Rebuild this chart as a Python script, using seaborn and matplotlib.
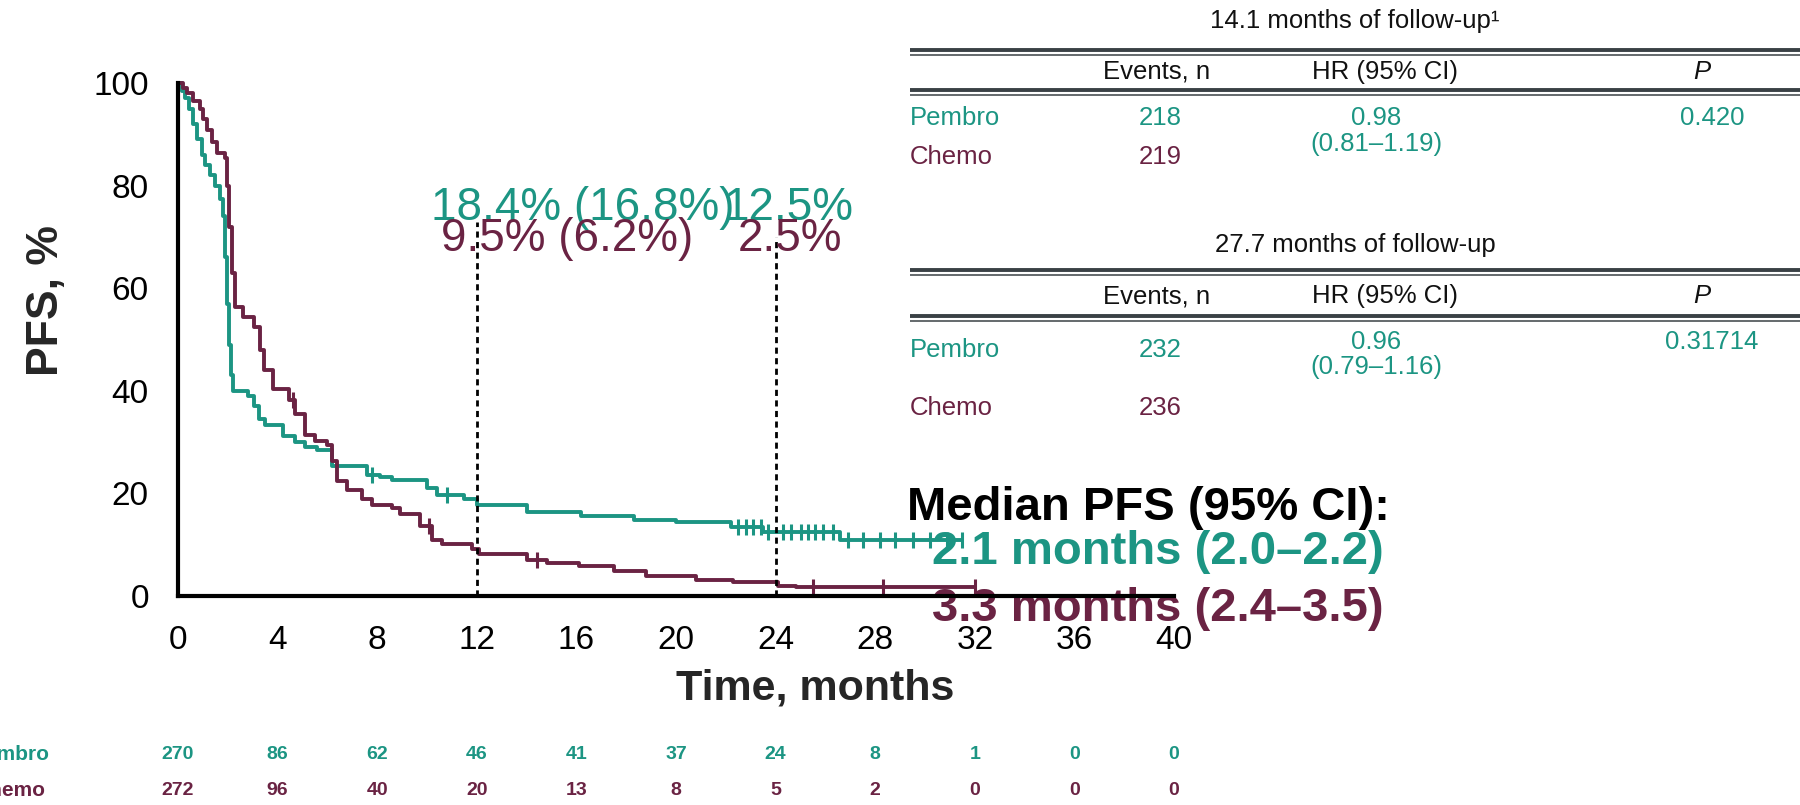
import numpy as np
import pandas as pd
import matplotlib
matplotlib.use("Agg")
import matplotlib.pyplot as plt
import matplotlib.transforms as mtrans
import seaborn as sns

# ---------------- data ----------------
arms = ["Pembro", "Chemo"]

pembro_t = [0, 0.15, 0.3, 0.46, 0.6, 0.75, 0.95, 1.1, 1.3, 1.5, 1.67, 1.8, 1.9, 1.97, 2.05, 2.12, 2.2,
            2.8, 3.05, 3.25, 3.5, 4.2, 4.7, 5.1, 5.6, 6.2, 7.6, 8.1, 8.6, 10.0, 10.4, 11.5, 12.0,
            14.0, 16.2, 18.3, 20.0, 22.2, 23.5, 26.6, 31.5]
pembro_s = [100, 98.5, 97, 95, 92, 89, 86, 84, 82, 80, 77.4, 74, 66, 57, 49, 43, 40,
            39, 37, 34.5, 33.4, 31.2, 30, 29, 28.5, 25.4, 23.6, 23.1, 22.6, 21, 19.7, 19, 17.8,
            16.3, 15.6, 14.8, 14.4, 13.4, 12.5, 11, 11]

chemo_t = [0, 0.2, 0.36, 0.6, 0.87, 1.0, 1.15, 1.35, 1.55, 1.87, 1.95, 2.05, 2.15, 2.27, 2.6, 3.05,
           3.3, 3.45, 3.8, 4.45, 4.7, 5.1, 5.5, 6.0, 6.2, 6.4, 6.8, 7.4, 7.8, 8.6, 8.9, 9.7, 10.2,
           10.6, 11.8, 12.1, 14.0, 14.8, 16.1, 17.5, 18.8, 20.8, 22.3, 24.1, 24.8, 32.0]
chemo_s = [100, 99, 98, 96.5, 95, 93, 90.8, 88.5, 86.4, 85.3, 80, 72, 63, 56.4, 54.4, 52.5,
           48, 44, 40.3, 38.3, 35.4, 31.4, 30.3, 29.5, 26.3, 22.4, 20.6, 19, 17.7, 17.1, 15.9, 13.6, 11,
           10.1, 9.1, 8.1, 7.1, 6.5, 5.8, 4.9, 3.9, 3.2, 2.7, 1.9, 1.7, 1.7]

pembro_cens_t = [7.8, 10.8, 22.5, 22.8, 23.1, 23.4, 23.7, 24.3, 24.6, 25.0, 25.3, 25.6, 25.9, 26.3,
                 26.9, 27.5, 28.2, 28.8, 29.5, 30.2, 30.9, 31.5]
pembro_cens_s = [23.6, 19.7, 13.4, 13.4, 13.4, 13.4, 12.5, 12.5, 12.5, 12.5, 12.5, 12.5, 12.5, 12.5,
                 11, 11, 11, 11, 11, 11, 11, 11]
chemo_cens_t = [4.6, 10.1, 14.4, 25.5, 28.3, 32.0]
chemo_cens_s = [38.3, 13.6, 7.1, 1.7, 1.7, 1.7]

xticks = [0, 4, 8, 12, 16, 20, 24, 28, 32, 36, 40]
yticks = [0, 20, 40, 60, 80, 100]

risk_pembro = [270, 86, 62, 46, 41, 37, 24, 8, 1, 0, 0]
risk_chemo = [272, 96, 40, 20, 13, 8, 5, 2, 0, 0, 0]

landmarks = [12, 24]
landmark_top = [73, 70]

# table data
tables = [
    {"title": "14.1 months of follow-up\u00b9",
     "events": ["218", "219"], "hr": "0.98", "ci": "(0.81\u20131.19)", "p": "0.420"},
    {"title": "27.7 months of follow-up",
     "events": ["232", "236"], "hr": "0.96", "ci": "(0.79\u20131.16)", "p": "0.31714"},
]

TEAL = "#1c9583"
MAROON = "#6a2343"
palette = {"Pembro": TEAL, "Chemo": MAROON}

# ---------------- style ----------------
sns.set_theme(style="white")
plt.rcParams['font.family'] = ['Liberation Sans', 'DejaVu Sans']

fig = plt.figure(figsize=(18, 8.05), dpi=100)
fig.patch.set_facecolor("white")

# overlay for free text (pixel coords), drawn beneath the chart axes
ov = fig.add_axes([0, 0, 1, 1])
ov.set_xlim(0, 1800)
ov.set_ylim(805, 0)
ov.axis("off")
ov.set_zorder(0)

ax = fig.add_axes([178 / 1800, 1 - 596 / 805, 996 / 1800, 513 / 805])
ax.set_zorder(1)
ax.patch.set_alpha(0)

df = pd.concat([
    pd.DataFrame({"t": pembro_t, "s": pembro_s, "arm": "Pembro"}),
    pd.DataFrame({"t": chemo_t, "s": chemo_s, "arm": "Chemo"}),
], ignore_index=True)
cens = pd.concat([
    pd.DataFrame({"t": pembro_cens_t, "s": pembro_cens_s, "arm": "Pembro"}),
    pd.DataFrame({"t": chemo_cens_t, "s": chemo_cens_s, "arm": "Chemo"}),
], ignore_index=True)

sns.lineplot(data=df, x="t", y="s", hue="arm", palette=palette, drawstyle="steps-post",
             estimator=None, sort=False, linewidth=2.8, legend=False, ax=ax, clip_on=False)
for arm in arms:
    sub = cens[cens.arm == arm]
    ax.plot(sub.t, sub.s, linestyle="none", marker="|", markersize=11, markeredgewidth=2.2,
            color=palette[arm], clip_on=False)

for x, top in zip(landmarks, landmark_top):
    ax.plot([x, x], [0, top], color="black", linestyle=(0, (2.2, 1.6)), linewidth=2, clip_on=False)

ax.set_xlim(0, 40)
ax.set_ylim(0, 100)
ax.set_xticks(xticks)
ax.set_yticks(yticks)
ax.tick_params(axis="both", direction="out", length=13, width=2.8, labelsize=24, pad=8,
               color="black", labelcolor="black")
for s in ["top", "right"]:
    ax.spines[s].set_visible(False)
for s in ["left", "bottom"]:
    ax.spines[s].set_linewidth(3.0)
    ax.spines[s].set_color("black")

ax.set_xlabel("Time, months", fontsize=31, fontweight="bold", va="center")
ax.xaxis.set_label_coords(0.64, -0.181)
ax.set_ylabel("PFS, %", fontsize=32, fontweight="bold", va="center")
ax.yaxis.set_label_coords(-0.1325, 0.575)

# landmark annotations
ax.text(10.15, 75.6, "18.4% (16.8%)", color=TEAL, fontsize=33, ha="left", va="center", clip_on=False)
ax.text(21.9, 75.6, "12.5%", color=TEAL, fontsize=33, ha="left", va="center", clip_on=False)
ax.text(10.55, 69.6, "9.5% (6.2%)", color=MAROON, fontsize=33, ha="left", va="center", clip_on=False)
ax.text(22.5, 69.6, "2.5%", color=MAROON, fontsize=33, ha="left", va="center", clip_on=False)

# median PFS text (beneath axes)
ov.text(907, 508, "Median PFS (95% CI):", fontsize=34, fontweight="bold", color="black",
        ha="left", va="center")
ov.text(932, 552, "2.1 months (2.0\u20132.2)", fontsize=34, fontweight="bold", color=TEAL,
        ha="left", va="center")
ov.text(932, 609, "3.3 months (2.4\u20133.5)", fontsize=34, fontweight="bold", color=MAROON,
        ha="left", va="center")

# risk table
blend = mtrans.blended_transform_factory(ax.transData, ov.transData)
for row_y, vals, arm, right in [(754, risk_pembro, "Pembro", 50), (790, risk_chemo, "Chemo", 45)]:
    for x, v in zip(xticks, vals):
        ax.text(x, row_y, str(v), transform=blend, ha="center", va="center", fontsize=14,
                fontweight="bold", color=palette[arm], clip_on=False)
    ov.text(right, row_y, arm, ha="right", va="center", fontsize=15, fontweight="bold",
            color=palette[arm])

# efficacy tables
line_col = "#3a4145"
FS = 18.5
layout = [
    dict(title=21, l1=52, header=72, l2=92, rows=[118, 157], hr=118, ci=144),
    dict(title=245, l1=272, header=296, l2=318, rows=[350, 408], hr=342, ci=367),
]
for tbl, L in zip(tables, layout):
    ov.text(1355, L["title"], tbl["title"], fontsize=FS, ha="center", va="center", color="#111111")
    for ly in (L["l1"], L["l2"]):
        ov.plot([910, 1800], [ly - 2, ly - 2], color=line_col, linewidth=2.8, solid_capstyle="butt")
        ov.plot([910, 1800], [ly + 3, ly + 3], color=line_col, linewidth=1.1, solid_capstyle="butt")
    hy = L["header"]
    ov.text(1157, hy, "Events, n", fontsize=FS, ha="center", va="center", color="#111111")
    ov.text(1385, hy, "HR (95% CI)", fontsize=FS, ha="center", va="center", color="#111111")
    ov.text(1702, hy, "P", fontsize=FS, ha="center", va="center", color="#111111", style="italic")
    for arm, yy, ev in zip(arms, L["rows"], tbl["events"]):
        ov.text(910, yy, arm, fontsize=FS, ha="left", va="center", color=palette[arm])
        ov.text(1160, yy, ev, fontsize=FS, ha="center", va="center", color=palette[arm])
    ov.text(1376, L["hr"], tbl["hr"], fontsize=FS, ha="center", va="center", color=TEAL)
    ov.text(1376, L["ci"], tbl["ci"], fontsize=FS, ha="center", va="center", color=TEAL)
    ov.text(1712, L["hr"], tbl["p"], fontsize=FS, ha="center", va="center", color=TEAL)

fig.savefig("out.png", dpi=100, facecolor="white")
